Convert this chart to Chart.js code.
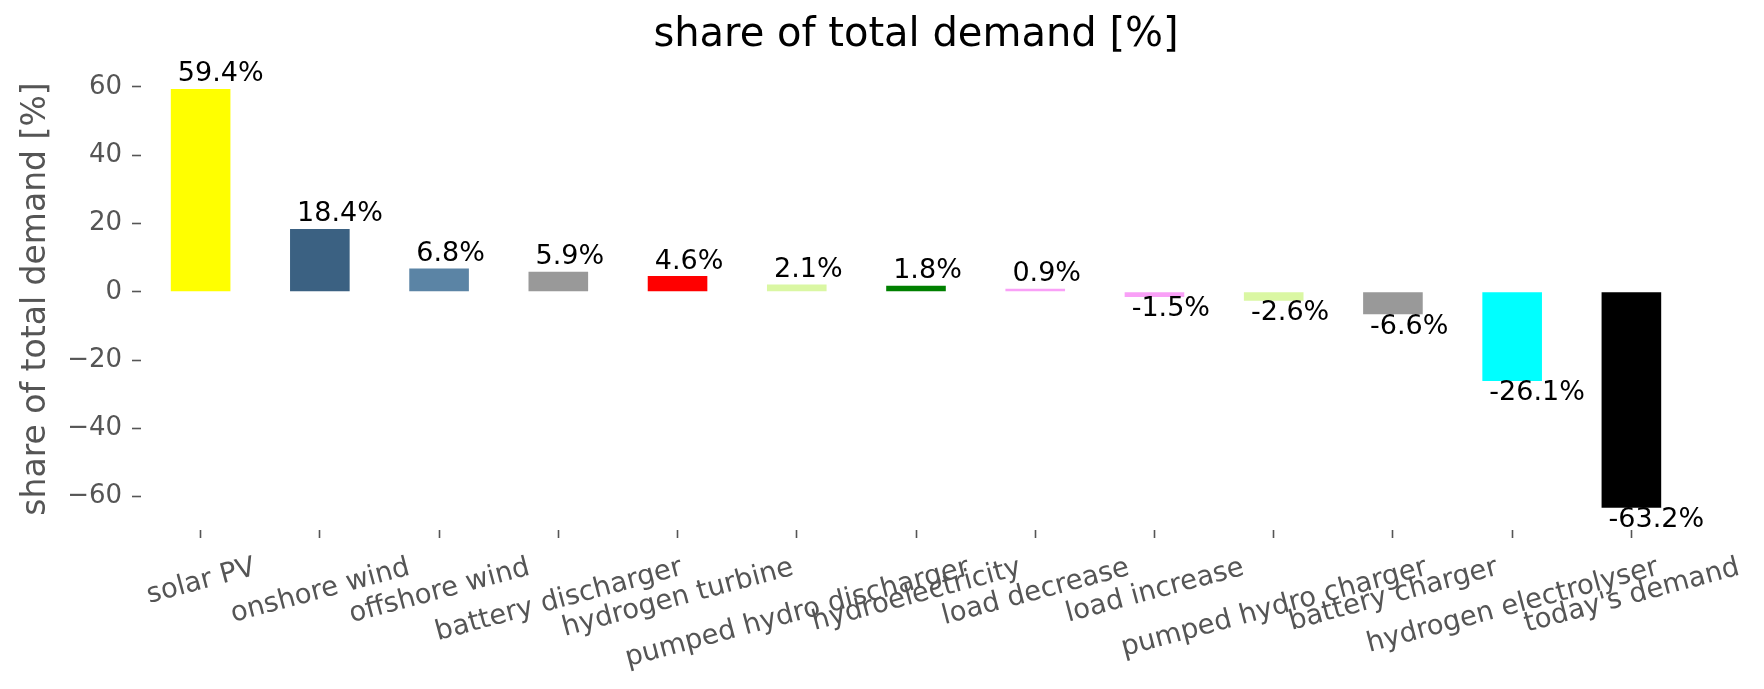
<!DOCTYPE html>
<html>
<head>
<meta charset="utf-8">
<script src="https://cdn.jsdelivr.net/npm/chart.js@4.4.1/dist/chart.umd.min.js"></script>
<style>
  html, body { margin: 0; padding: 0; background: #ffffff; }
  #wrap { width: 1764px; height: 689px; }
</style>
</head>
<body>
<div id="wrap"><canvas id="shareChart" width="1764" height="689"></canvas></div>
<script>
// data
const categories = [
  "solar PV", "onshore wind", "offshore wind", "battery discharger",
  "hydrogen turbine", "pumped hydro discharger", "hydroelectricity",
  "load decrease", "load increase", "pumped hydro charger",
  "battery charger", "hydrogen electrolyser", "today's demand"
];
const shares = [59.4, 18.4, 6.8, 5.9, 4.6, 2.1, 1.8, 0.9, -1.5, -2.6, -6.6, -26.1, -63.2];
const barColors = [
  "#ffff00", "#3b6182", "#5b84a5", "#999999", "#ff0000", "#daf7a3", "#008000",
  "#f9a0f7", "#f9a0f7", "#daf7a3", "#999999", "#00ffff", "#000000"
];
const yMin = -69.75;
const yMax = 65.53;

Chart.defaults.font.family = "'DejaVu Sans', sans-serif";

// value labels like "59.4%" above / below each bar
const valueLabels = {
  id: "valueLabels",
  afterDatasetsDraw(chart) {
    const { ctx } = chart;
    const meta = chart.getDatasetMeta(0);
    ctx.save();
    ctx.font = "27px 'DejaVu Sans'";
    ctx.fillStyle = "#000000";
    ctx.textAlign = "left";
    meta.data.forEach((bar, i) => {
      const v = shares[i];
      const left = bar.x - bar.width / 2 + 7;
      const text = v.toFixed(1) + "%";
      if (v >= 0) {
        ctx.textBaseline = "alphabetic";
        ctx.fillText(text, left, bar.y - 7.5);
      } else {
        ctx.textBaseline = "top";
        ctx.fillText(text, left, bar.y - 1);
      }
    });
    ctx.restore();
  }
};

// rotated category labels, centred on the tick like matplotlib does
const xLabels = {
  id: "xLabels",
  afterDraw(chart) {
    const { ctx, chartArea } = chart;
    const xs = chart.scales.x;
    const ang = 15 * Math.PI / 180;
    const size = 27.5;
    ctx.save();
    ctx.font = size + "px 'DejaVu Sans'";
    ctx.fillStyle = "#555555";
    ctx.textAlign = "center";
    ctx.textBaseline = "middle";
    categories.forEach((label, i) => {
      const w = ctx.measureText(label).width;
      const h = size * 1.164;
      const boxH = w * Math.sin(ang) + h * Math.cos(ang);
      const cx = xs.getPixelForValue(i);
      const cy = chartArea.bottom + 20 + boxH / 2;
      ctx.save();
      ctx.translate(cx, cy);
      ctx.rotate(-ang);
      ctx.fillText(label, 0, 2);
      ctx.restore();
    });
    ctx.restore();
  }
};

const ctx = document.getElementById("shareChart");

new Chart(ctx, {
  type: "bar",
  data: {
    labels: categories,
    datasets: [
      {
        label: "share of total demand [%]",
        data: shares,
        backgroundColor: barColors,
        borderWidth: 0,
        categoryPercentage: 1.0,
        barPercentage: 0.5,
      },
    ],
  },
  options: {
    responsive: false,
    animation: false,
    layout: { padding: { left: 0, right: 73, top: 0, bottom: 0 } },
    plugins: {
      legend: { display: false },
      tooltip: { enabled: false },
      title: {
        display: true,
        text: "share of total demand [%]",
        color: "#000000",
        fullSize: false,
        font: { size: 40, weight: "normal" },
        padding: { top: 12, bottom: 8 },
      },
    },
    scales: {
      x: {
        grid: {
          display: true,
          offset: false,
          drawOnChartArea: false,
          drawTicks: true,
          tickLength: 8,
          tickWidth: 1.6,
          tickColor: "#555555",
        },
        border: { display: false },
        ticks: { display: false },
        afterFit: (scale) => { scale.height = 689 - 530; },
      },
      y: {
        min: yMin,
        max: yMax,
        grid: {
          display: true,
          drawOnChartArea: false,
          drawTicks: true,
          tickLength: 9,
          tickWidth: 1.6,
          tickColor: "#555555",
        },
        border: { display: false },
        ticks: {
          stepSize: 20,
          includeBounds: false,
          padding: 10,
          color: "#555555",
          font: { size: 26 },
          callback: (v) => (v < 0 ? "\u2212" + Math.abs(v) : String(v)),
        },
        title: {
          display: true,
          text: "share of total demand [%]",
          color: "#555555",
          font: { size: 33 },
          padding: { top: 17, bottom: 0 },
        },
        afterFit: (scale) => { scale.width = 141; },
      },
    },
  },
  plugins: [valueLabels, xLabels],
});
</script>
</body>
</html>
